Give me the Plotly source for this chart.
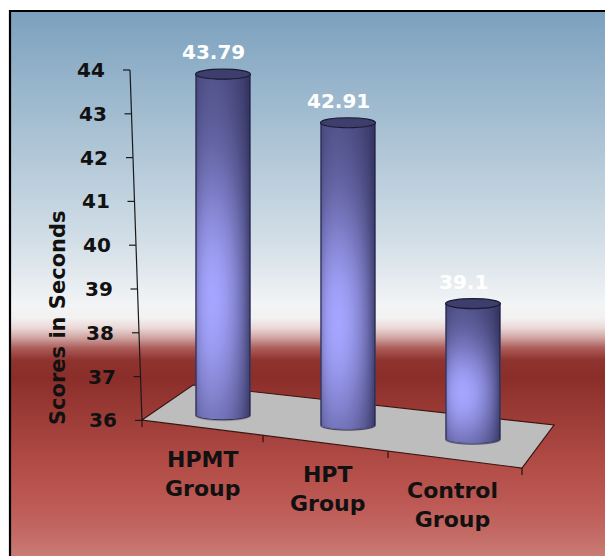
import base64
import math
import struct
import zlib

import plotly.graph_objects as go

# ---------------- data ----------------
categories = ["HPMT<br>Group", "HPT<br>Group", "Control<br>Group"]
scores = [43.79, 42.91, 39.1]
score_labels = ["43.79", "42.91", "39.1"]
y_ticks = [36, 37, 38, 39, 40, 41, 42, 43, 44]
y_title = "Scores in Seconds"

# ---------------- canvas / projection ----------------
W, H = 605, 556
PX_PER_UNIT = 43.8            # vertical pixels per second
TOP_TICK_PX = 70              # pixel row of the highest tick
CAT0_PX, CAT_STEP = 223, 125  # pixel column of first category, spacing
DEPTH_SHIFT_PX = [-5, 5, 19]  # perspective drop of each bar's floor spot
BASE = y_ticks[0]
RX_PX, RY_PX = 27.5, 5.0      # cylinder radii on screen

y_hi = y_ticks[-1] + TOP_TICK_PX / PX_PER_UNIT
y_lo = y_hi - H / PX_PER_UNIT
x_lo = -CAT0_PX / CAT_STEP
x_hi = x_lo + W / CAT_STEP
RX = RX_PX / CAT_STEP
RY = RY_PX / PX_PER_UNIT

AXIS_X_TOP, AXIS_X_BOT = 130, 142
FLOOR = [(142, 420), (193, 385), (554, 425), (522, 468)]  # FL, BL, BR, FR
FONT = "DejaVu Sans"


def px(x):
    return x / W


def py(y):
    return 1 - y / H


def axis_x(v):
    f = (y_ticks[-1] - v) / (y_ticks[-1] - y_ticks[0])
    return AXIS_X_TOP + f * (AXIS_X_BOT - AXIS_X_TOP)


def front_edge_y(x):
    (x0, y0), (x1, y1) = FLOOR[0], FLOOR[3]
    return y0 + (x - x0) * (y1 - y0) / (x1 - x0)


# ---------------- tiny PNG writer ----------------
def png_uri(width, height, rows):
    raw = b"".join(b"\x00" + bytes(r) for r in rows)

    def chunk(tag, data):
        body = tag + data
        return struct.pack(">I", len(data)) + body + struct.pack(">I", zlib.crc32(body) & 0xFFFFFFFF)

    ihdr = struct.pack(">IIBBBBB", width, height, 8, 6, 0, 0, 0)
    png = (b"\x89PNG\r\n\x1a\n" + chunk(b"IHDR", ihdr)
           + chunk(b"IDAT", zlib.compress(raw, 9)) + chunk(b"IEND", b""))
    return "data:image/png;base64," + base64.b64encode(png).decode()


def hex_rgb(h):
    h = h.lstrip("#")
    return tuple(int(h[i:i + 2], 16) for i in (0, 2, 4))


# background: steel blue sky fading to white, then a dark-red to salmon ground
BG_STOPS = [
    (11, "#7ba0be"), (60, "#8eaec7"), (120, "#a4bed1"), (180, "#bbcedc"),
    (240, "#d2dee7"), (285, "#e8edf1"), (305, "#f3f4f6"), (318, "#f3f1f1"),
    (328, "#ead8d7"), (338, "#cfa3a1"), (348, "#ac5e5a"), (360, "#8f332e"),
    (378, "#8b2e2a"), (420, "#9e3d38"), (460, "#b04a45"), (500, "#bc5853"),
    (530, "#c36762"), (556, "#c97b75"),
]


def bg_color(y):
    for (ya, ca), (yb, cb) in zip(BG_STOPS, BG_STOPS[1:]):
        if y <= yb:
            t = max(0.0, min(1.0, (y - ya) / (yb - ya)))
            a, b = hex_rgb(ca), hex_rgb(cb)
            return tuple(round(a[i] + (b[i] - a[i]) * t) for i in range(3))
    return hex_rgb(BG_STOPS[-1][1])


bg_rows = []
for r in range(H - 11):
    c = bg_color(11 + r + 0.5)
    bg_rows.append(list(c + (255,)) * 4)
bg_uri = png_uri(4, H - 11, bg_rows)


# cylinder body: lit from the front-left, brightest a little below mid-height
DARK = (40, 40, 80)
LIGHT = (165, 165, 255)
EDGE = (28, 28, 55)


def cylinder_uri(body_px):
    w = int(round(2 * RX_PX))
    h = int(math.ceil(body_px + RY_PX + 1))
    rows = []
    for j in range(h):
        y = j + 0.5
        row = []
        for i in range(w):
            X = i + 0.5 - w / 2
            u = X / RX_PX
            side = RX_PX - abs(X)
            if y <= body_px:
                d = side
            else:
                Y = y - body_px
                g = (X / RX_PX) ** 2 + (Y / RY_PX) ** 2
                grad = 2 * math.sqrt((X / RX_PX ** 2) ** 2 + (Y / RY_PX ** 2) ** 2)
                d = min(side, (1 - g) / max(grad, 1e-6))
            alpha = max(0.0, min(1.0, d + 0.5))
            uu = max(-1.0, min(1.0, u))
            nz = math.sqrt(max(0.0, 1 - uu * uu))
            lam = max(0.0, -0.38 * uu + 0.925 * nz)
            hor = 0.28 + 0.72 * lam ** 1.1
            t = y / body_px
            vert = 0.30 + 0.70 * math.exp(-((t - 0.66) / 0.40) ** 2)
            s = min(1.0, hor * vert)
            col = [DARK[k] + (LIGHT[k] - DARK[k]) * s for k in range(3)]
            ow = max(0.0, min(1.0, 1.5 - d))
            col = [col[k] + (EDGE[k] - col[k]) * ow for k in range(3)]
            row += [int(round(c)) for c in col] + [int(round(alpha * 255))]
        rows.append(row)
    return png_uri(w, h, rows), w, h


fig = go.Figure()

shapes = []
images = []
annotations = []

images.append(dict(
    source=bg_uri, xref="paper", yref="paper", x=px(10), y=py(11),
    sizex=1 - px(10), sizey=1 - 11 / H, xanchor="left", yanchor="top",
    sizing="stretch", layer="below",
))

# floor plane
fl = FLOOR
path = "M {} {} L {} {} L {} {} L {} {} Z".format(
    *[v for p in fl for v in (px(p[0]), py(p[1]))])
shapes.append(dict(type="path", path=path, xref="paper", yref="paper",
                   fillcolor="#bdbdbd", line=dict(color="#3a1512", width=1.2),
                   layer="below"))

# category ticks along the front edge of the floor
for xt in [142, 263, 388, 522]:
    yt = front_edge_y(xt)
    shapes.append(dict(type="line", xref="paper", yref="paper",
                       x0=px(xt), x1=px(xt), y0=py(yt), y1=py(yt + 7),
                       line=dict(color="#2a1010", width=1.2), layer="below"))

# value axis (slanted by the perspective)
shapes.append(dict(type="line", xref="paper", yref="y",
                   x0=px(axis_x(y_ticks[-1])), y0=y_ticks[-1],
                   x1=px(axis_x(y_ticks[0])), y1=y_ticks[0],
                   line=dict(color="#1a1a1a", width=1.2)))
for v in y_ticks:
    ax = axis_x(v)
    shapes.append(dict(type="line", xref="paper", yref="y",
                       x0=px(ax - 7), x1=px(ax), y0=v, y1=v,
                       line=dict(color="#1a1a1a", width=1.2)))
    annotations.append(dict(
        text=str(v), xref="paper", yref="y", x=px(ax - 23), y=v,
        xanchor="right", yanchor="middle", showarrow=False,
        font=dict(family=FONT, size=20, color="#111111", weight="bold"),
    ))

annotations.append(dict(
    text=y_title, xref="paper", yref="paper", x=px(58), y=py(318),
    textangle=-90, xanchor="center", yanchor="middle", showarrow=False,
    font=dict(family=FONT, size=21, color="#111111", weight="bold"),
))

layout_axes = {}
for k, (cat, val, lab) in enumerate(zip(categories, scores, score_labels)):
    yname = "y{}".format(k + 2)
    shift = DEPTH_SHIFT_PX[k] / PX_PER_UNIT
    layout_axes["yaxis{}".format(k + 2)] = dict(
        range=[y_lo + shift, y_hi + shift], overlaying="y", anchor="x",
        visible=False, fixedrange=True,
    )
    fig.add_trace(go.Bar(
        x=[k], y=[val - BASE], base=BASE, width=2 * RX, yaxis=yname,
        marker=dict(color="#6c6cc0", line=dict(width=0)),
        name=cat.replace("<br>", " "), showlegend=False,
        hovertemplate=cat.replace("<br>", " ") + ": %{y:.2f}<extra></extra>",
    ))
    body_px = (val - BASE) * PX_PER_UNIT
    uri, w, h = cylinder_uri(body_px)
    images.append(dict(
        source=uri, xref="x", yref=yname, x=k - (w / CAT_STEP) / 2, y=val,
        sizex=w / CAT_STEP, sizey=h / PX_PER_UNIT, xanchor="left",
        yanchor="top", sizing="stretch", layer="above",
    ))
    # cylinder lid
    shapes.append(dict(type="circle", xref="x", yref=yname,
                       x0=k - RX, x1=k + RX, y0=val - RY, y1=val + RY,
                       fillcolor="#3e3e6c", line=dict(color="#1a1a35", width=1.2),
                       layer="above"))
    annotations.append(dict(
        text=lab, xref="x", yref=yname, x=k, y=val, xshift=-10, yshift=22,
        xanchor="center", yanchor="middle", showarrow=False,
        font=dict(family=FONT, size=20, color="#ffffff", weight="bold"),
    ))
    cx = CAT0_PX + k * CAT_STEP - 21
    annotations.append(dict(
        text=cat, xref="x", yref="paper", x=k, xshift=-21,
        y=py(front_edge_y(cx) + 46), xanchor="center", yanchor="middle",
        showarrow=False, align="center",
        font=dict(family=FONT, size=22, color="#111111", weight="bold"),
    ))

# frame
shapes.append(dict(type="line", xref="paper", yref="paper",
                   x0=px(9), x1=1, y0=py(11), y1=py(11),
                   line=dict(color="#000000", width=2.2)))
shapes.append(dict(type="line", xref="paper", yref="paper",
                   x0=px(10), x1=px(10), y0=py(10), y1=0,
                   line=dict(color="#000000", width=2.2)))

fig.update_layout(
    width=W, height=H, margin=dict(l=0, r=0, t=0, b=0),
    paper_bgcolor="#ffffff", plot_bgcolor="rgba(0,0,0,0)",
    barmode="overlay", showlegend=False,
    xaxis=dict(range=[x_lo, x_hi], visible=False, fixedrange=True),
    yaxis=dict(range=[y_lo, y_hi], visible=False, fixedrange=True),
    shapes=shapes, images=images, annotations=annotations,
    **layout_axes,
)

fig.write_html("out.html")
